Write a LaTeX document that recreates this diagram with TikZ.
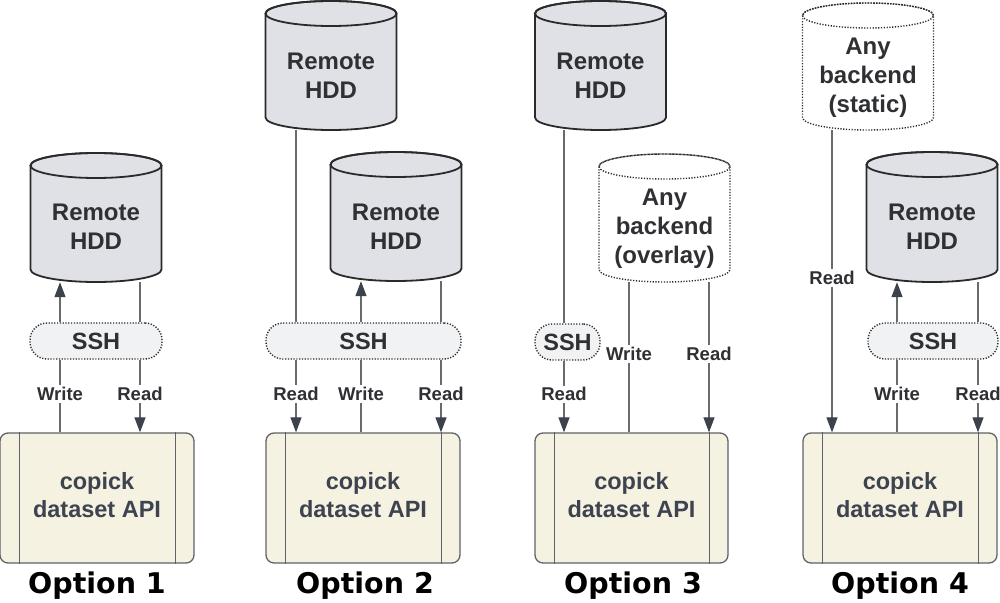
\documentclass[tikz,border=0pt]{standalone}
\usepackage{fontspec}
\setmainfont{Liberation Sans}
\newfontfamily\optfont{DejaVu Sans}
\usetikzlibrary{arrows.meta}
\pgfdeclarelayer{bg}
\pgfsetlayers{bg,main}
\definecolor{cylfill}{HTML}{DFE1E6}
\definecolor{cylline}{HTML}{2A2A2A}
\definecolor{sshfill}{HTML}{F1F2F4}
\definecolor{apifill}{HTML}{F6F2E2}
\definecolor{apiline}{HTML}{5F6368}
\definecolor{connc}{HTML}{6A6A6A}
\definecolor{arrowc}{HTML}{3B424C}
\definecolor{txtc}{HTML}{2E3033}
\definecolor{apitxt}{HTML}{3D4450}
\newcommand\drum[7]{% name, cx, top, bottom, style, textpos, text
  \path[#5] ({#2-65.5},{-(#3+12.5)}) -- ({#2-65.5},{-(#4-12.5)})
    arc[start angle=180,end angle=360,x radius=65.5pt,y radius=12.5pt]
    -- ({#2+65.5},{-(#3+12.5)})
    arc[start angle=0,end angle=180,x radius=65.5pt,y radius=12.5pt] -- cycle;
  \draw[#5,fill=none] ({#2},{-(#3+12.5)}) ellipse[x radius=65.5pt,y radius=12.5pt];
  \node[inner sep=0pt,minimum width=131pt,minimum height={(#4-#3)*1pt}] (#1) at ({#2},{-(#3+#4)/2}) {};
  \node[drumtext] (#1t) at ({#2},{-#6}) {#7};
}
\tikzset{
  x=1pt,y=1pt,
  hddstyle/.style={fill=cylfill,draw=cylline,line width=1.8pt},
  anystyle/.style={fill=white,draw=cylline,line width=1.4pt,dash pattern=on 1.2pt off 1.6pt},
  drumtext/.style={align=center,text=txtc,font=\fontsize{24}{29}\selectfont\bfseries,inner sep=0pt},
  sshbox/.style={fill=sshfill,draw=cylline,line width=1.4pt,dash pattern=on 1.2pt off 1.6pt,
    rounded corners=17pt,minimum height=36pt,inner sep=0pt,text=txtc,font=\fontsize{23.5}{28}\selectfont\bfseries},
  apibox/.style={fill=apifill,draw=apiline,line width=1.3pt,rounded corners=8pt,
    minimum height=130pt,inner sep=0pt,align=center,text=apitxt,font=\fontsize{23.5}{28}\selectfont\bfseries},
  apitext/.style={align=center,text=apitxt,font=\fontsize{23.5}{28}\selectfont\bfseries,inner sep=0pt},
  apiin/.style={draw=apiline,line width=1.3pt},
  conn/.style={draw=connc,line width=1.2pt},
  arr/.style={-{Triangle[length=15pt,width=11pt,color=arrowc,fill=arrowc]}},
  lbl/.style={fill=white,inner sep=2pt,text=txtc,font=\fontsize{18.5}{20}\selectfont\bfseries},
  opt/.style={font=\optfont\fontsize{28.5}{30}\selectfont\bfseries,text=black,inner sep=0pt}
}
\begin{document}
\begin{tikzpicture}
\useasboundingbox (0,0) rectangle (1000,-602);
% ---------------- Option 1
\drum{hdd1}{96}{153}{282}{hddstyle}{227}{Remote\\HDD}
\node[sshbox,minimum width=132pt] (ssh1) at (96,-341) {SSH};
\node[apibox,minimum width=194pt] (api1) at (97,-498) {};
\node[apitext] (api1t) at (97,-495) {copick\\dataset API};
\node[opt] (o1) at (97,-586) {Option 1};
% ---------------- Option 2
\drum{hddA2}{331}{1}{130}{hddstyle}{76}{Remote\\HDD}
\drum{hddB2}{396}{152}{281}{hddstyle}{227}{Remote\\HDD}
\node[sshbox,minimum width=195pt] (ssh2) at (363.5,-341) {SSH};
\node[apibox,minimum width=194pt] (api2) at (363,-498) {};
\node[apitext] (api2t) at (363,-495) {copick\\dataset API};
\node[opt] (o2) at (365,-586) {Option 2};
% ---------------- Option 3
\drum{hdd3}{600.5}{1}{130}{hddstyle}{76}{Remote\\HDD}
\drum{any3}{664.5}{154}{282}{anystyle}{229}{Any\\backend\\(overlay)}
\node[sshbox,minimum width=65pt] (ssh3) at (567.5,-342) {SSH};
\node[apibox,minimum width=193pt] (api3) at (631.5,-498) {};
\node[apitext] (api3t) at (631.5,-495) {copick\\dataset API};
\node[opt] (o3) at (633,-586) {Option 3};
% ---------------- Option 4
\drum{any4}{868}{3}{130}{anystyle}{78}{Any\\backend\\(static)}
\drum{hdd4}{932}{152}{282}{hddstyle}{227}{Remote\\HDD}
\node[sshbox,minimum width=130pt] (ssh4) at (933,-341) {SSH};
\node[apibox,minimum width=194pt] (api4) at (900,-498) {};
\node[apitext] (api4t) at (900,-495) {copick\\dataset API};
\node[opt] (o4) at (900,-586) {Option 4};
% x positions of connectors
\coordinate (xa) at (60,0);
\coordinate (xb) at (140,0);
\coordinate (xc) at (296,0);
\coordinate (xd) at (361,0);
\coordinate (xe) at (441,0);
\coordinate (xf) at (564,0);
\coordinate (xg) at (629,0);
\coordinate (xh) at (709,0);
\coordinate (xi) at (832,0);
\coordinate (xj) at (897,0);
\coordinate (xk) at (978,0);
\begin{pgfonlayer}{bg}
% inner lines of API boxes are drawn on main below
% Option 1
\draw[conn,arr] (ssh1.north -| xa) -- (hdd1.south -| xa);
\draw[conn] (hdd1.south -| xb) -- (ssh1.north -| xb);
\draw[conn] (ssh1.south -| xa) -- node[lbl,pos=0.47] (l1w) {Write} (api1.north -| xa);
\draw[conn,arr] (ssh1.south -| xb) -- node[lbl,pos=0.47] (l1r) {Read} (api1.north -| xb);
% Option 2
\draw[conn] (hddA2.south -| xc) -- (ssh2.north -| xc);
\draw[conn,arr] (ssh2.south -| xc) -- node[lbl,pos=0.47] (l2r1) {Read} (api2.north -| xc);
\draw[conn,arr] (ssh2.north -| xd) -- (hddB2.south -| xd);
\draw[conn] (ssh2.south -| xd) -- node[lbl,pos=0.47] (l2w) {Write} (api2.north -| xd);
\draw[conn] (hddB2.south -| xe) -- (ssh2.north -| xe);
\draw[conn,arr] (ssh2.south -| xe) -- node[lbl,pos=0.47] (l2r2) {Read} (api2.north -| xe);
% Option 3
\draw[conn] (hdd3.south -| xf) -- (ssh3.north -| xf);
\draw[conn,arr] (ssh3.south -| xf) -- node[lbl,pos=0.47] (l3r1) {Read} (api3.north -| xf);
\draw[conn] (any3.south -| xg) -- node[lbl,pos=0.48] (l3w) {Write} (api3.north -| xg);
\draw[conn,arr] (any3.south -| xh) -- node[lbl,pos=0.48] (l3r2) {Read} (api3.north -| xh);
% Option 4
\draw[conn,arr] (any4.south -| xi) -- node[lbl,pos=0.49] (l4r1) {Read} (api4.north -| xi);
\draw[conn,arr] (ssh4.north -| xj) -- (hdd4.south -| xj);
\draw[conn] (ssh4.south -| xj) -- node[lbl,pos=0.47] (l4w) {Write} (api4.north -| xj);
\draw[conn] (hdd4.south -| xk) -- (ssh4.north -| xk);
\draw[conn,arr] (ssh4.south -| xk) -- node[lbl,pos=0.47] (l4r2) {Read} (api4.north -| xk);
\end{pgfonlayer}
% inner lines of API boxes
\foreach \b in {api1,api2,api3,api4}{
  \draw[apiin] ([xshift=20pt]\b.north west) -- ([xshift=20pt]\b.south west);
  \draw[apiin] ([xshift=-19pt]\b.north east) -- ([xshift=-19pt]\b.south east);
}
\end{tikzpicture}
\end{document}
